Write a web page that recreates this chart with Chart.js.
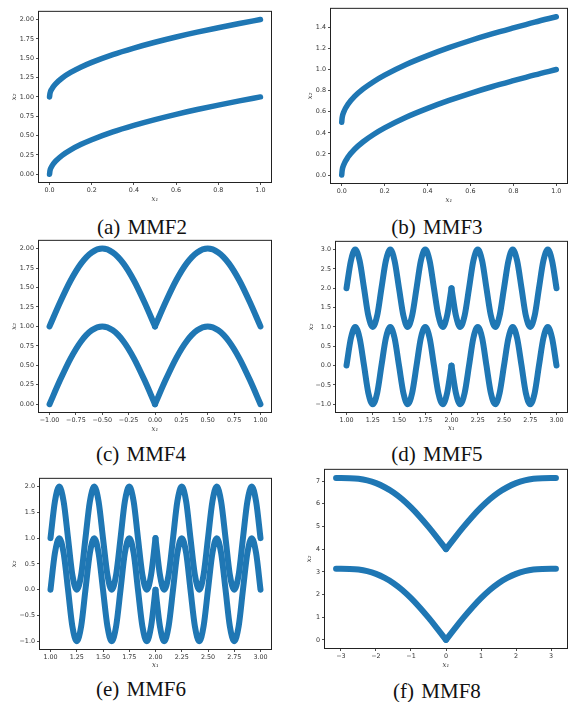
<!DOCTYPE html>
<html lang="en">
<head>
  <meta charset="UTF-8" />
  <title>MMF Pareto sets</title>
  <script src="https://cdn.jsdelivr.net/npm/chart.js@4"></script>
  <style>
    body {
      margin: 0;
      background: #fff;
      width: 577px;
      height: 702px;
      position: relative;
      overflow: hidden;
    }
    .panel { position: absolute; }
    .caption {
      position: absolute;
      width: 200px;
      text-align: center;
      font-family: 'Liberation Serif', serif;
      font-size: 21px;
      line-height: 24px;
      color: #111;
      word-spacing: 2px;
      white-space: nowrap;
    }
  </style>
</head>
<body>
  <script>
    // values
    // (a) MMF2
    const aX = [0, 0.002, 0.01, 0.03, 0.06, 0.1, 0.15, 0.2, 0.3, 0.4, 0.5, 0.6, 0.7, 0.8, 0.9, 1.0];
    const aLower = [0, 0.045, 0.1, 0.173, 0.245, 0.316, 0.387, 0.447, 0.548, 0.632, 0.707, 0.775, 0.837, 0.894, 0.949, 1.0];
    const aUpper = [1.0, 1.045, 1.1, 1.173, 1.245, 1.316, 1.387, 1.447, 1.548, 1.632, 1.707, 1.775, 1.837, 1.894, 1.949, 2.0];

    // (b) MMF3
    const bX = [0, 0.002, 0.01, 0.03, 0.06, 0.1, 0.15, 0.2, 0.3, 0.4, 0.5, 0.6, 0.7, 0.8, 0.9, 1.0];
    const bLower = [0, 0.045, 0.1, 0.173, 0.245, 0.316, 0.387, 0.447, 0.548, 0.632, 0.707, 0.775, 0.837, 0.894, 0.949, 1.0];
    const bUpper = [0.5, 0.545, 0.6, 0.673, 0.745, 0.816, 0.887, 0.947, 1.048, 1.132, 1.207, 1.275, 1.337, 1.394, 1.449, 1.5];

    // (c) MMF4
    const cX = [-1, -0.9, -0.8, -0.7, -0.6, -0.5, -0.4, -0.3, -0.2, -0.1, 0, 0.1, 0.2, 0.3, 0.4, 0.5, 0.6, 0.7, 0.8, 0.9, 1];
    const cLower = [0, 0.31, 0.59, 0.81, 0.95, 1, 0.95, 0.81, 0.59, 0.31, 0, 0.31, 0.59, 0.81, 0.95, 1, 0.95, 0.81, 0.59, 0.31, 0];
    const cUpper = [1, 1.31, 1.59, 1.81, 1.95, 2, 1.95, 1.81, 1.59, 1.31, 1, 1.31, 1.59, 1.81, 1.95, 2, 1.95, 1.81, 1.59, 1.31, 1];

    // (d) MMF5
    const dX = [1.000, 1.042, 1.083, 1.125, 1.167, 1.208, 1.250, 1.292, 1.333, 1.375, 1.417, 1.458, 1.500,
                1.542, 1.583, 1.625, 1.667, 1.708, 1.750, 1.792, 1.833, 1.875, 1.917, 1.958, 2.000,
                2.042, 2.083, 2.125, 2.167, 2.208, 2.250, 2.292, 2.333, 2.375, 2.417, 2.458, 2.500,
                2.542, 2.583, 2.625, 2.667, 2.708, 2.750, 2.792, 2.833, 2.875, 2.917, 2.958, 3.000];
    const dLower = [0, 0.71, 1, 0.71, 0, -0.71, -1, -0.71, 0, 0.71, 1, 0.71, 0,
                    -0.71, -1, -0.71, 0, 0.71, 1, 0.71, 0, -0.71, -1, -0.71, 0,
                    -0.71, -1, -0.71, 0, 0.71, 1, 0.71, 0, -0.71, -1, -0.71, 0,
                    0.71, 1, 0.71, 0, -0.71, -1, -0.71, 0, 0.71, 1, 0.71, 0];
    const dUpper = [2, 2.71, 3, 2.71, 2, 1.29, 1, 1.29, 2, 2.71, 3, 2.71, 2,
                    1.29, 1, 1.29, 2, 2.71, 3, 2.71, 2, 1.29, 1, 1.29, 2,
                    1.29, 1, 1.29, 2, 2.71, 3, 2.71, 2, 1.29, 1, 1.29, 2,
                    2.71, 3, 2.71, 2, 1.29, 1, 1.29, 2, 2.71, 3, 2.71, 2];

    // (e) MMF6
    const eX = [1.000, 1.042, 1.083, 1.125, 1.167, 1.208, 1.250, 1.292, 1.333, 1.375, 1.417, 1.458, 1.500,
                1.542, 1.583, 1.625, 1.667, 1.708, 1.750, 1.792, 1.833, 1.875, 1.917, 1.958, 2.000,
                2.042, 2.083, 2.125, 2.167, 2.208, 2.250, 2.292, 2.333, 2.375, 2.417, 2.458, 2.500,
                2.542, 2.583, 2.625, 2.667, 2.708, 2.750, 2.792, 2.833, 2.875, 2.917, 2.958, 3.000];
    const eLower = [0, 0.71, 1, 0.71, 0, -0.71, -1, -0.71, 0, 0.71, 1, 0.71, 0,
                    -0.71, -1, -0.71, 0, 0.71, 1, 0.71, 0, -0.71, -1, -0.71, 0,
                    -0.71, -1, -0.71, 0, 0.71, 1, 0.71, 0, -0.71, -1, -0.71, 0,
                    0.71, 1, 0.71, 0, -0.71, -1, -0.71, 0, 0.71, 1, 0.71, 0];
    const eUpper = [1, 1.71, 2, 1.71, 1, 0.29, 0, 0.29, 1, 1.71, 2, 1.71, 1,
                    0.29, 0, 0.29, 1, 1.71, 2, 1.71, 1, 0.29, 0, 0.29, 1,
                    0.29, 0, 0.29, 1, 1.71, 2, 1.71, 1, 0.29, 0, 0.29, 1,
                    1.71, 2, 1.71, 1, 0.29, 0, 0.29, 1, 1.71, 2, 1.71, 1];

    // (f) MMF8
    const fX = [-3.14, -3, -2.75, -2.5, -2.25, -2, -1.75, -1.5, -1.25, -1, -0.75, -0.5, -0.25, 0,
                0.25, 0.5, 0.75, 1, 1.25, 1.5, 1.75, 2, 2.25, 2.5, 2.75, 3, 3.14];
    const fLower = [3.14, 3.14, 3.13, 3.1, 3.03, 2.91, 2.73, 2.5, 2.2, 1.84, 1.43, 0.98, 0.5, 0,
                    0.5, 0.98, 1.43, 1.84, 2.2, 2.5, 2.73, 2.91, 3.03, 3.1, 3.13, 3.14, 3.14];
    const fUpper = [7.14, 7.14, 7.13, 7.1, 7.03, 6.91, 6.73, 6.5, 6.2, 5.84, 5.43, 4.98, 4.5, 4,
                    4.5, 4.98, 5.43, 5.84, 6.2, 6.5, 6.73, 6.91, 7.03, 7.1, 7.13, 7.14, 7.14];

    // tick values
    const unitTicks = [0, 0.2, 0.4, 0.6, 0.8, 1.0];
    const twoTicks = [0, 0.25, 0.5, 0.75, 1, 1.25, 1.5, 1.75, 2];
    const bYTicks = [0, 0.2, 0.4, 0.6, 0.8, 1.0, 1.2, 1.4];
    const cXTicks = [-1, -0.75, -0.5, -0.25, 0, 0.25, 0.5, 0.75, 1];
    const waveXTicks = [1, 1.25, 1.5, 1.75, 2, 2.25, 2.5, 2.75, 3];
    const dYTicks = [-1, -0.5, 0, 0.5, 1, 1.5, 2, 2.5, 3];
    const eYTicks = [-1, -0.5, 0, 0.5, 1, 1.5, 2];
    const fXTicks = [-3, -2, -1, 0, 1, 2, 3];
    const fYTicks = [0, 1, 2, 3, 4, 5, 6, 7];

    const BLUE = '#1f77b4';
    const PAD = 4;

    // [xs, ys, from, to] – curves are split at their cusps
    const panels = [
      { caption: '(a) MMF2', frame: [39, 10, 271, 182], yw: 29, xh: 21, cap: [142, 227], lw: 5.5,
        x: [-0.05, 1.05, unitTicks, 1], y: [-0.1, 2.1, twoTicks, 2],
        series: [[aX, aLower], [aX, aUpper]] },
      { caption: '(b) MMF3', frame: [331, 7, 567, 183], yw: 25, xh: 21, cap: [437, 227], lw: 5.5,
        x: [-0.05, 1.05, unitTicks, 1], y: [-0.075, 1.575, bYTicks, 1],
        series: [[bX, bLower], [bX, bUpper]] },
      { caption: '(c) MMF4', frame: [39, 239, 271, 412], yw: 29, xh: 21, cap: [141, 454], lw: 6,
        x: [-1.1, 1.1, cXTicks, 2], y: [-0.1, 2.1, twoTicks, 2],
        series: [[cX, cLower, 0, 11], [cX, cLower, 10], [cX, cUpper, 0, 11], [cX, cUpper, 10]] },
      { caption: '(d) MMF5', frame: [336, 240, 567, 412], yw: 29, xh: 20, cap: [437, 454], lw: 6,
        x: [0.9, 3.1, waveXTicks, 2], y: [-1.2, 3.2, dYTicks, 1],
        series: [[dX, dLower, 0, 25], [dX, dLower, 24], [dX, dUpper, 0, 25], [dX, dUpper, 24]] },
      { caption: '(e) MMF6', frame: [40, 477, 271, 649], yw: 30, xh: 20, cap: [141, 689], lw: 6,
        x: [0.9, 3.1, waveXTicks, 2], y: [-1.15, 2.15, eYTicks, 1],
        series: [[eX, eLower, 0, 25], [eX, eLower, 24], [eX, eUpper, 0, 25], [eX, eUpper, 24]] },
      { caption: '(f) MMF8', frame: [325, 468, 567, 648], yw: 20, xh: 21, cap: [437, 691], lw: 6,
        x: [-3.456, 3.456, fXTicks, 0], y: [-0.357, 7.497, fYTicks, 0],
        series: [[fX, fLower, 0, 14], [fX, fLower, 13], [fX, fUpper, 0, 14], [fX, fUpper, 13]] }
    ];

    const frame = {
      id: 'frame',
      afterDatasetsDraw(chart) {
        const { ctx, chartArea: a } = chart;
        ctx.save();
        ctx.strokeStyle = '#222';
        ctx.lineWidth = 1;
        ctx.strokeRect(a.left - 0.5, a.top - 0.5, a.right - a.left + 1, a.bottom - a.top + 1);
        ctx.restore();
      }
    };

    function fmt(v, dec) {
      return (v < 0 ? '\u2212' : '') + Math.abs(v).toFixed(dec);
    }

    function axis(cfg, title, vertical, size) {
      const [min, max, ticks, dec] = cfg;
      return {
        type: 'linear',
        position: vertical ? 'left' : 'bottom',
        min: min,
        max: max,
        afterBuildTicks: s => { s.ticks = ticks.map(v => ({ value: v })); },
        afterFit: s => { if (vertical) s.width = size; else s.height = size; },
        grid: { display: true, drawOnChartArea: false, drawTicks: true, tickLength: 3, color: '#222', lineWidth: 0.8 },
        border: { display: false },
        ticks: {
          padding: vertical ? 2 : 1.5,
          color: '#333',
          maxRotation: 0,
          autoSkip: false,
          font: { family: 'DejaVu Sans', size: 6.4 },
          callback: v => fmt(v, dec)
        },
        title: {
          display: true,
          text: title,
          color: '#333',
          padding: 0,
          font: { family: 'DejaVu Serif', size: 7, style: 'italic' }
        }
      };
    }

    panels.forEach(p => {
      const [L, T, R, B] = p.frame;
      const left = L - p.yw, top = T - PAD;
      const w = R + PAD - left, h = B + p.xh - top;

      const wrap = document.createElement('div');
      wrap.className = 'panel';
      wrap.style.left = left + 'px';
      wrap.style.top = top + 'px';
      const canvas = document.createElement('canvas');
      canvas.width = w;
      canvas.height = h;
      canvas.style.width = w + 'px';
      canvas.style.height = h + 'px';
      wrap.appendChild(canvas);
      document.body.appendChild(wrap);

      const cap = document.createElement('div');
      cap.className = 'caption';
      cap.textContent = p.caption;
      cap.style.left = (p.cap[0] - 100) + 'px';
      cap.style.top = (p.cap[1] - 12) + 'px';
      document.body.appendChild(cap);

      const datasets = p.series.map(([xs, ys, from, to]) => ({
        data: xs.slice(from || 0, to).map((x, i) => ({ x: x, y: ys[(from || 0) + i] })),
        showLine: true,
        borderColor: BLUE,
        backgroundColor: BLUE,
        borderWidth: p.lw,
        borderCapStyle: 'round',
        borderJoinStyle: 'round',
        cubicInterpolationMode: 'monotone',
        pointRadius: 0
      }));

      new Chart(canvas.getContext('2d'), {
        type: 'scatter',
        data: { datasets: datasets },
        options: {
          responsive: false,
          animation: false,
          events: [],
          layout: { padding: { top: PAD, right: PAD, left: 0, bottom: 0 } },
          plugins: { legend: { display: false }, tooltip: { enabled: false } },
          scales: {
            x: axis(p.x, 'x\u2081', false, p.xh),
            y: axis(p.y, 'x\u2082', true, p.yw)
          }
        },
        plugins: [frame]
      });
    });
  </script>
</body>
</html>
